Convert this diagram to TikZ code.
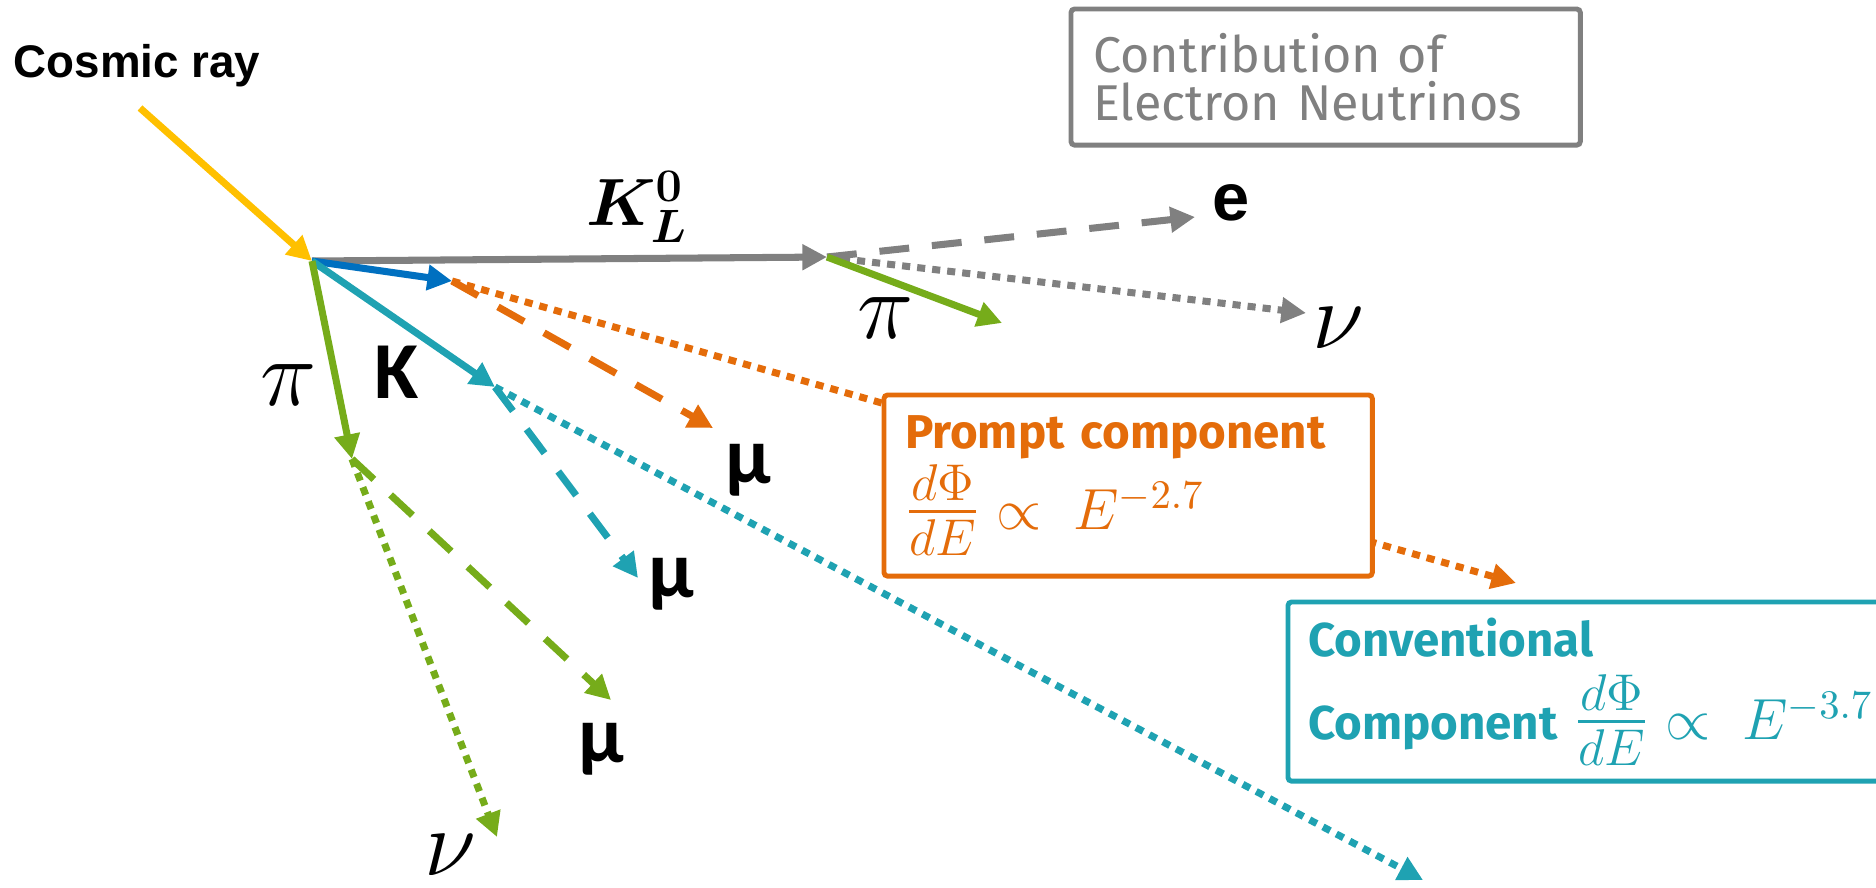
\RequirePackage{fix-cm}
\documentclass[tikz,border=0pt]{standalone}
\usepackage{amsmath}
\usepackage{bm}
\usepackage{fontspec}
\newfontfamily\arialfont{Liberation Sans}
\newfontfamily\calfont{Carlito}
\newfontfamily\dinfont{Fira Sans}
\usetikzlibrary{arrows.meta, backgrounds}

\definecolor{rayyellow}{HTML}{FFC000}
\definecolor{kgray}{HTML}{808080}
\definecolor{dblue}{HTML}{0070C0}
\definecolor{porange}{HTML}{E46C0A}
\definecolor{cteal}{HTML}{1FA2B2}
\definecolor{pigreen}{HTML}{76AC1A}

% flux law: fraction a bit larger than the power
\newcommand{\fluxlaw}[1]{{\fontsize{21}{23}\selectfont$\frac{d\Phi}{dE}$}%
  {\fontsize{16.5}{23}\selectfont$\;\propto\ E^{#1}$}}

\begin{document}
\begin{tikzpicture}[
    x=0.01cm, y=-0.01cm,
    ray/.style  = {line width=2pt, -{Triangle[length=7pt,width=7pt]}},
    dsh/.style  = {ray, dash pattern=on 8.5pt off 6.5pt},
    dot/.style  = {ray, dash pattern=on 2.3pt off 2pt},
    lbl/.style  = {inner sep=0pt, font=\calfont\bfseries\fontsize{23}{23}\selectfont},
    sym/.style  = {inner sep=0pt, font=\fontsize{27}{27}\selectfont},
    box/.style  = {draw, fill=white, line width=1.4pt, rounded corners=1pt,
                   anchor=north west, outer sep=0pt, align=left},
  ]
  \useasboundingbox (0,0) rectangle (1876,887);

  % decay vertices
  \coordinate (src)   at (140,108);
  \coordinate (hit)   at (312,261);
  \coordinate (klEnd) at (827,257);
  \coordinate (dEnd)  at (452,281);
  \coordinate (kEnd)  at (495,387);
  \coordinate (piEnd) at (352,459);
  % free ends
  \coordinate (eEnd)    at (1195,217);
  \coordinate (nuklEnd) at (1306,313);
  \coordinate (piklEnd) at (1002,323);
  \coordinate (mudEnd)  at (713,428);
  \coordinate (nudEnd)  at (1516,583);
  \coordinate (mukEnd)  at (638,578);
  \coordinate (nukEnd)  at (1423,880);
  \coordinate (mupiEnd) at (611,700);
  \coordinate (nupiEnd) at (497,837);

  % labels
  \node[inner sep=0pt, anchor=base west,
        font=\arialfont\bfseries\fontsize{13}{16}\selectfont] (cosmic) at (13,77) {Cosmic ray};
  \node[inner sep=0pt, font=\fontsize{19}{19}\selectfont] (kl) at (637,207) {$\bm{K_L^0}$};
  \node[inner sep=0pt, font=\arialfont\bfseries\fontsize{19}{19}\selectfont] (ekl) at (1231,203) {e};
  \node[sym] (nukl) at (1338,328) {$\nu$};
  \node[sym] (pikl) at (886,318)  {$\pi$};
  \node[lbl] (kaon) at (397,372)  {K};
  \node[sym] (pion) at (289,385)  {$\pi$};
  \node[lbl] (mud)  at (748,470)  {μ};
  \node[lbl] (muk)  at (671,584)  {μ};
  \node[lbl] (mupi) at (601,749)  {μ};
  \node[sym] (nupi) at (450,855)  {$\nu$};

  % boxes
  \node[box, draw=kgray, text=kgray, minimum width=5.09cm, minimum height=1.36cm,
        text width=4.65cm, inner xsep=0.22cm,
        font=\dinfont\fontsize{14.3}{13.7}\selectfont] (contrib) at (1071,9)
        {Contribution of\\Electron Neutrinos};
  \node[box, draw=porange, text=porange, minimum height=1.81cm,
        text width=4.46cm, inner xsep=0.21cm,
        font=\dinfont\fontsize{13.5}{23}\selectfont] (prompt) at (884,395)
        {\textbf{Prompt component}\\
         \fluxlaw{-2.7}};
  \node[box, draw=cteal, text=cteal, minimum height=1.79cm,
        text width=6.6cm, inner xsep=0.2cm,
        font=\dinfont\fontsize{13.5}{23.6}\selectfont] (conv) at (1288,602)
        {\textbf{Conventional}\\
         \textbf{Component}\ \fluxlaw{-3.7}};

  \begin{scope}[on background layer]
    \draw[ray, rayyellow] (src) -- (hit);
    \draw[ray, kgray]     (hit) -- (klEnd);
    \draw[dsh, kgray]     (klEnd) -- (eEnd);
    \draw[dot, kgray]     (klEnd) -- (nuklEnd);
    \draw[ray, pigreen]   (klEnd) -- (piklEnd);
    \draw[ray, dblue]     (hit) -- (dEnd);
    \draw[dsh, porange]   (dEnd) -- (mudEnd);
    \draw[dot, porange]   (dEnd) -- (nudEnd);
    \draw[ray, cteal]     (hit) -- (kEnd);
    \draw[dsh, cteal]     (kEnd) -- (mukEnd);
    \draw[dot, cteal]     (kEnd) -- (nukEnd);
    \draw[ray, pigreen]   (hit) -- (piEnd);
    \draw[dsh, pigreen]   (piEnd) -- (mupiEnd);
    \draw[dot, pigreen]   (piEnd) -- (nupiEnd);
  \end{scope}
\end{tikzpicture}
\end{document}
